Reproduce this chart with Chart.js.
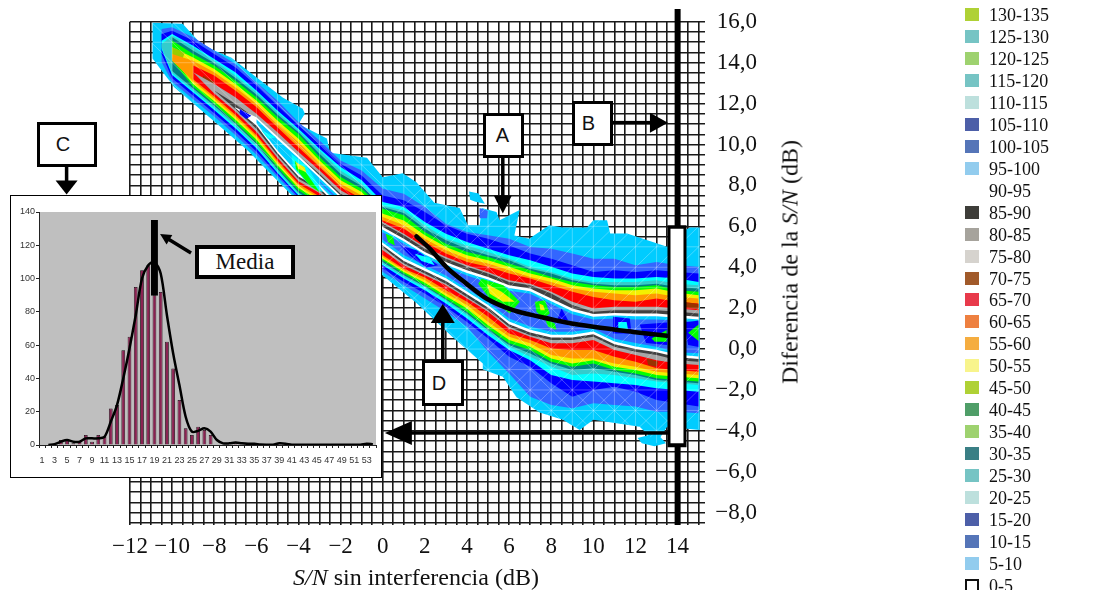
<!DOCTYPE html>
<html>
<head>
<meta charset="utf-8">
<script src="https://cdn.jsdelivr.net/npm/chart.js@4/dist/chart.umd.js"></script>
<style>
  html, body { margin: 0; padding: 0; background: #fff; width: 1107px; height: 590px; overflow: hidden; }
  #main { position: absolute; left: 0; top: 0; }
  #insetBox { position: absolute; left: 10px; top: 195px; width: 372px; height: 283px; box-sizing: border-box; border: 1px solid #000; background: #fff; }
  #inset { position: absolute; left: 0; top: 0; }
  .tag { position: absolute; box-sizing: border-box; border: 3px solid #000; background: #fff; color: #111; display: flex; align-items: center; justify-content: center; font: 20px "Liberation Sans", sans-serif; padding-right: 8px; }
  .media { font: 23px "Liberation Serif", serif; border-width: 4px; padding-right: 0; }
  .axisTitle { position: absolute; font: 24px "Liberation Serif", serif; color: #111; white-space: nowrap; }
  .legendRow { position: absolute; left: 965px; height: 20px; font: 18px/20px "Liberation Serif", serif; color: #111; }
  .legendRow i { position: absolute; left: 0; top: 3px; width: 14px; height: 13px; box-sizing: border-box; }
  .legendRow span { position: absolute; left: 24px; white-space: nowrap; }
</style>
</head>
<body>
<canvas id="main" width="1107" height="590"></canvas>
<div class="axisTitle" style="left:293px;top:564px"><em>S/N</em> sin interferencia (dB)</div>
<div class="axisTitle" style="left:790px;top:262px;transform:translate(-50%,-50%) rotate(-90deg)">Diferencia de la <em>S/N</em> (dB)</div>
<div id="insetBox"><canvas id="inset" width="370" height="281"></canvas></div>
<div class="tag" style="left:483px;top:113px;width:41px;height:45px;padding-right:2px">A</div>
<div class="tag" style="left:572px;top:101px;width:41px;height:45px">B</div>
<div class="tag" style="left:37px;top:122px;width:60px;height:45px">C</div>
<div class="tag" style="left:422px;top:360px;width:42px;height:46px">D</div>
<div class="tag media" style="left:195px;top:245px;width:100px;height:34px">Media</div>
<div id="legend"></div>

<script>
// columns of the contour map, S/N without interference (dB)
const snrCols = [-10.5, -10, -9, -8, -7, -6, -5, -4, -3, -2, -1, 0, 1, 2, 3, 4, 5, 6, 7, 8, 9, 10, 11, 12, 13, 14, 15];

// outer edge of the contour map, read around the outline
const outlineX = [-10.93, -9.5, -8.7, -8, -7.2, -6.2, -4.75, -3.8, -3.7, -4, -2.65, -2.5, -0.75, 0, 0.95, 1.6, 2.45, 3.65, 4.05, 4.6, 4.7, 5.4, 5.55, 6.5, 6.25, 6.95, 7.9, 8.55, 9.7, 10, 10.65, 10.8, 11.6, 13.5, 14.1, 14.6, 15.05, 15.05, 13.5, 13, 12.2, 10, 9.35, 8.55, 7.45, 6.35, 5.7, 4.75, 4.75, 3.3, 1.6, 0, -4.4, -5.35, -6.4, -7.75, -8.7, -9.9, -10.93];
const outlineY = [15.95, 15.9, 15, 14.6, 14.25, 13.45, 12.3, 11.75, 11.5, 11, 10.3, 9.6, 9.35, 8.4, 8.6, 8.15, 7.15, 6.9, 6.05, 6.05, 6.9, 6.7, 6.3, 6.8, 5.55, 5.4, 6.05, 5.95, 5.95, 6.3, 6.3, 5.65, 5.65, 5, 5.7, 5.95, 5.95, -3.95, -3.8, -4.6, -3.8, -3.45, -3.95, -3.45, -3.1, -2.35, -1.35, -1, -0.7, 0.6, 2.25, 3.6, 7.6, 8.6, 9.7, 10.9, 11.75, 12.8, 14.2];

// contour bands, upper and lower edge per column (dB)
const royalTop = [15.65, 15.73, 15.24, 14.59, 13.94, 13.04, 12.15, 11.09, 10.2, 9.22, 8.73, 7.84, 7.59, 6.94, 6.13, 5.72, 5.56, 5.4, 4.99, 4.91, 4.67, 4.42, 4.42, 4.1, 4.26, 4.1, 4.02];
const royalBot = [14.02, 13.07, 12.21, 11.37, 10.47, 9.5, 8.41, 7.32, 6.49, 5.43, 4.37, 3.77, 3.12, 2.47, 1.82, 1.09, -0.13, -1.19, -2.33, -2.73, -2.89, -2.65, -2.73, -2.81, -3.06, -3.06, -3.14];
const blueTop = [15.4, 15.56, 15.08, 14.43, 13.78, 12.88, 11.91, 10.93, 10.03, 9.06, 8.49, 7.51, 7.27, 6.7, 6.05, 5.64, 5.4, 5.07, 4.67, 4.42, 4.1, 3.77, 3.85, 3.77, 3.85, 3.77, 3.69];
const blueBot = [14.43, 13.24, 12.38, 11.53, 10.64, 9.66, 8.52, 7.43, 6.65, 5.6, 4.54, 3.93, 3.28, 2.72, 2.07, 1.33, 0.52, -0.37, -0.86, -1.67, -2.33, -2, -1.84, -2.08, -2.49, -2.65, -2.81];
const cyanTop = [15.07, 15.4, 14.83, 14.18, 13.53, 12.64, 11.66, 10.77, 9.79, 8.9, 8.25, 7.19, 6.94, 6.21, 5.64, 5.24, 4.91, 4.59, 4.34, 4.02, 3.69, 3.53, 3.45, 3.45, 3.53, 3.45, 3.28];
const cyanBot = [14.67, 13.4, 12.54, 11.69, 10.8, 9.82, 8.62, 7.51, 6.81, 5.76, 4.7, 4.1, 3.45, 2.88, 2.23, 1.5, 0.68, -0.05, -0.54, -1.27, -1.51, -1.59, -1.67, -1.76, -1.92, -2, -2.08];
const tealTop = [14.91, 15.32, 14.75, 14.1, 13.37, 12.56, 11.58, 10.69, 9.71, 8.73, 8.08, 7.02, 6.78, 6.05, 5.4, 5.07, 4.75, 4.42, 4.02, 3.77, 3.45, 3.28, 3.28, 3.28, 3.37, 3.2, 3.12];
const tealBot = [14.75, 13.5, 12.64, 11.79, 10.9, 9.92, 8.7, 7.59, 6.91, 5.86, 4.8, 4.18, 3.53, 3.01, 2.36, 1.66, 0.85, 0.11, -0.37, -0.86, -1.27, -1.19, -1.27, -1.43, -1.59, -1.67, -1.76];
const deepTop = [null, 15.24, 14.59, 13.99, 13.26, 12.44, 11.47, 10.6, 9.55, 8.57, 7.97, 6.94, 6.65, 5.88, 5.32, 4.91, 4.59, 4.34, 3.93, 3.69, 3.37, 3.2, 3.12, 3.12, 3.2, 3.04, 2.96];
const deepBot = [null, 13.6, 12.74, 11.89, 11, 10.02, 8.8, 7.66, 7.01, 5.95, 4.9, 4.26, 3.61, 3.07, 2.42, 1.74, 0.93, 0.2, -0.21, -0.7, -1.02, -0.94, -1.11, -1.27, -1.51, -1.59, -1.67];
const greenTop = [null, 15.08, 14.43, 13.86, 13.13, 12.31, 11.34, 10.52, 9.39, 8.41, 7.84, 6.86, 6.54, 5.72, 5.15, 4.75, 4.5, 4.18, 3.85, 3.53, 3.28, 3.12, 3.04, 3.04, 3.12, 2.88, 2.8];
const greenBot = [null, 14.1, 12.83, 11.98, 11.09, 10.11, 8.89, 7.76, 7.11, 6.05, 5, 4.34, 3.69, 3.12, 2.47, 1.82, 1.01, 0.28, -0.05, -0.62, -0.86, -0.7, -1.02, -1.19, -1.43, -1.51, -1.59];
const yellowTop = [null, 14.75, 14.26, 13.69, 12.96, 12.15, 11.17, 10.28, 9.22, 8.25, 7.68, 6.62, 6.29, 5.56, 4.99, 4.59, 4.34, 4.02, 3.69, 3.45, 3.12, 2.96, 2.88, 2.88, 2.96, 2.75, 2.63];
const yellowBot = [null, 14.26, 12.96, 12.11, 11.22, 10.24, 9.01, 7.87, 7.24, 6.18, 5.13, 4.42, 3.77, 3.24, 2.59, 1.98, 1.17, 0.44, 0.11, -0.46, -0.7, -0.54, -0.86, -1.02, -1.27, -1.35, -1.43];
const orangeTop = [null, 14.43, 14.1, 13.53, 12.8, 11.99, 11.01, 10.11, 9.06, 8.08, 7.51, 6.46, 6.05, 5.4, 4.83, 4.42, 4.18, 3.85, 3.53, 3.28, 2.96, 2.8, 2.72, 2.63, 2.72, 2.55, 2.47];
const orangeBot = [null, 14.1, 13.09, 12.24, 11.35, 10.37, 9.12, 7.97, 7.37, 6.31, 5.26, 4.5, 3.85, 3.37, 2.72, 2.15, 1.33, 0.6, 0.28, -0.29, -0.46, -0.46, -0.7, -0.86, -1.11, -1.19, -1.27];
const redTop = [null, null, 13.86, 13.37, 12.64, 11.83, 10.85, 9.87, 8.9, 7.92, 7.35, 6.29, 5.88, 5.24, 4.67, 4.26, 4.02, 3.69, 3.45, 3.12, 2.8, 2.55, 2.39, 2.31, 2.47, 2.31, 2.23];
const redBot = [null, null, 13.19, 12.35, 11.45, 10.47, 9.22, 8.08, 7.46, 6.41, 5.35, 4.59, 3.93, 3.5, 2.88, 2.31, 1.58, 0.76, 0.44, 0.03, -0.05, -0.05, -0.37, -0.62, -0.94, -1.02, -1.11];
const grayTop = [null, null, 13.53, 12.96, 12.31, 11.5, 10.6, 9.63, 8.73, 7.76, 7.19, 6.21, 5.64, 4.99, 4.5, 4.1, 3.77, 3.37, 3.2, 2.8, 2.31, 1.98, 2.07, 2.07, 2.07, 1.98, 1.9];
const grayBot = [null, null, null, 12.5, 11.61, 10.63, 9.35, 8.21, 7.63, 6.57, 5.51, 4.83, 4.1, 3.61, 3.12, 2.47, 1.82, 1.01, 0.6, 0.28, 0.28, 0.44, -0.05, -0.29, -0.54, -0.7, -0.78];
const darkTop = [null, null, null, 12.64, 11.99, 11.25, 10.36, 9.46, 8.57, 7.59, 7.03, 6.13, 5.56, 4.91, 4.42, 4.02, 3.69, 3.28, 3.12, 2.72, 2.15, 1.82, 1.9, 1.9, 1.9, 1.82, 1.74];
const darkBot = [null, null, null, 12.64, 11.74, 10.77, 9.47, 8.33, 7.76, 6.7, 5.65, 4.96, 4.18, 3.69, 3.2, 2.55, 1.9, 1.09, 0.68, 0.44, 0.44, 0.6, 0.11, -0.13, -0.29, -0.54, -0.62];

// valley between the two ridges
const whiteTop = [null, null, null, null, 11.82, 11.33, 10.39, 9.46, 8.49, 7.51, 6.78, 5.97, 5.4, 4.75, 4.26, 3.85, 3.53, 3.12, 2.96, 2.47, 1.98, 1.71, 1.77, 1.74, 1.74, 1.66, 1.58];
const whiteBot = [null, null, null, null, 11.79, 10.93, 9.58, 8.44, 7.87, 6.83, 5.77, 5.07, 4.31, 3.82, 3.33, 2.68, 2.03, 1.22, 0.81, 0.57, 0.57, 0.73, 0.24, 0, -0.16, -0.4, -0.49];
const paleTop = [null, null, null, null, null, 11.24, 10.26, 9.33, 8.36, 7.38, 6.65, 5.84, 5.27, 4.62, 4.13, 3.72, 3.4, 2.99, 2.83, 2.34, 1.85, 1.58, 1.64, 1.61, 1.61, 1.53, 1.45];
const paleBot = [null, null, null, null, null, 11.04, 9.71, 8.57, 8, 6.96, 5.9, 5.2, 4.44, 3.95, 3.46, 2.81, 2.16, 1.35, 0.94, 0.7, 0.7, 0.86, 0.37, 0.13, -0.03, -0.28, -0.36];
const innerTop = [null, null, null, null, null, null, null, null, 8.2, 7.25, 6.5, 5.7, 5.15, 4.5, 4, 3.6, 3.25, 2.85, 2.7, 2.2, 1.7, 1.45, 1.5, 1.45, 1.45, 1.4, 1.3];
const innerBot = [null, null, null, null, null, null, null, null, 8.15, 7.1, 6.05, 5.35, 4.6, 4.1, 3.6, 2.95, 2.3, 1.5, 1.1, 0.85, 0.85, 1, 0.5, 0.3, 0.12, -0.15, -0.2];

// small closed islands, [x, y] in dB
const blobTop = [[4.1, 7.7], [4.55, 7.6], [4.85, 7.1], [4.4, 7.2], [4.15, 7.3]];
const blobLow = [[12.1, -4.35], [13, -4.1], [13.45, -4.6], [12.9, -4.75], [12.3, -4.6]];
const blobCore = [[4.6, 6.9], [5, 6.75], [4.95, 6.4], [4.6, 6.4]];
const holeBlue = [[-6.79, 11.74], [-6.24, 11.41], [-6.48, 11.25], [-6.79, 11.49]];
const holeCyan = [[-5.76, 10.68], [-5.05, 10.36], [-5.45, 10.28]];
const ringCyan = [[-4.34, 9.54], [-3.63, 8.98], [-2.83, 7.67], [-3.39, 7.91], [-4.25, 8.88]];
const ringGreen = [[-4.18, 9.22], [-3.71, 8.73], [-2.99, 7.67], [-3.47, 8], [-4.12, 8.8]];
const ringYellow = [[-4.13, 9.14], [-3.71, 8.89], [-3.63, 8.65], [-4.02, 8.81]];
const valleyBlueA = [[0.81, 5.07], [1.6, 4.83], [2.63, 4.1], [2.07, 3.98], [1.28, 4.58]];
const valleyCyanA = [[1.52, 4.66], [2.23, 4.47], [2.47, 4.1], [1.84, 4.31]];
const valleyGreenA = [[0.14, 5.64], [0.49, 5.48], [0.57, 5.07], [0.25, 5.23]];
const valleyGreenB = [[4.69, 3.44], [5.72, 3.12], [6.51, 2.31], [6.03, 1.74], [5.08, 2.47], [4.53, 3.2]];
const valleyYellowB = [[4.94, 3.2], [5.64, 2.8], [6.27, 2.31], [5.72, 2.31], [5.08, 2.71]];
const valleyGreenC = [[7.22, 2.31], [7.7, 2.39], [7.93, 1.74], [7.62, 1.49], [7.3, 1.82]];
const valleyYellowC = [[7.43, 2.23], [7.62, 2.14], [7.7, 1.9], [7.49, 1.9]];
const valleyGreenD = [[7.7, 1.49], [8.17, 1.25], [8.25, 0.93], [7.85, 1.09]];
const valleyBlueE = [[8.49, 1.98], [8.8, 1.41], [8.25, 1.33]];
const valleyBlueF = [[10.94, 1.58], [11.73, 1.49], [11.81, 0.76], [10.94, 0.76]];
const valleyCyanF = [[11.18, 1.33], [11.58, 1.33], [11.65, 0.93], [11.18, 0.93]];
const valleyBlueG = [[12.2, 1.2], [13.5, 1.3], [13.5, 0.2], [12.5, 0.3]];
const valleyGreenG = [[12.76, 0.52], [13.48, 0.93], [13.48, 0.36], [12.92, 0.36]];
const valleyBlueH = [[14.3, 1.3], [15, 1.4], [15, 0.1], [14.5, 0.2]];
const valleyGreenH = [[14.5, 0.8], [15, 1.2], [15, 0.4]];
const limeTip = [[-10, 14.75], [-9.4, 14.5], [-9.5, 14.2], [-10, 14.4]];
const brownA = [[-8.54, 13.37], [-7.98, 13.04], [-8.22, 12.88], [-8.54, 13.04]];
const brownB = [[12.53, -0.46], [13.08, -0.62], [13, -0.86], [12.6, -0.78]];
const brownC = [[14.3, 2.3], [15, 2.2], [15, 1.95], [14.4, 2.05]];

// the curve, the long bar and the arrows over the map
const curveX = [1.6, 2.23, 3.02, 3.97, 4.92, 6.19, 7.46, 8.72, 10, 11.89, 13.5];
const curveY = [5.51, 4.91, 4.01, 3.2, 2.47, 1.9, 1.58, 1.3, 1.09, 0.84, 0.65];
const arrowsMain = [
  { from: [5.7, 9.37], to: [5.7, 6.63], len: 18, wid: 18 },
  { from: [10.88, 11.07], to: [13.54, 11.07], len: 18, wid: 20 },
  { from: [-15.01, 8.93], to: [-15.01, 7.56], len: 14, wid: 22 },
  { from: [2.85, -0.59], to: [2.85, 2.2], len: 19, wid: 24 },
  { from: [13.54, -4.1], to: [0.1, -4.1], len: 27, wid: 24 }
];

// inset histogram
const histCats = Array.from({ length: 54 }, (_, i) => String(i + 1));
const histBars = [0, 0, 0, 3, 3, 1, 2, 6, 2, 6, 5, 22, 24, 57, 65, 95, 105, 108, 90, 92, 62, 46, 27, 10, 6, 11, 9, 6, 0, 0, 0, 1, 0, 0, 0, 0, 0, 0, 1, 0, 0, 0, 0, 0, 0, 0, 0, 0, 0, 0, 0, 0, 0, 0];
const histLine = [null, 0, 0.5, 2, 3, 2, 2, 4, 4, 4, 5, 14, 24, 40, 58, 78, 100, 108, 110, 103, 78, 55, 36, 17, 8, 8.5, 10, 8, 3, 1, 1, 1.5, 1, 0.7, 0.7, 0.3, 0.2, 0.2, 1, 0.8, 0.2, 0.2, 0.2, 0.2, 0.2, 0.2, 0.2, 0.2, 0.2, 0.2, 0.2, 0.2, 0.8, 0.5];
const histMedia = histCats.map(c => c === '19' ? [90, 135] : null);

const legendLabels = ['130-135', '125-130', '120-125', '115-120', '110-115', '105-110', '100-105', '95-100', '90-95', '85-90', '80-85', '75-80', '70-75', '65-70', '60-65', '55-60', '50-55', '45-50', '40-45', '35-40', '30-35', '25-30', '20-25', '15-20', '10-15', '5-10', '0-5'];
const legendColors = ['#AFD135', '#76C4C4', '#9ED26F', '#76C4C4', '#BDE0DD', '#4D5FA8', '#5575B8', '#92CCEE', '#FFFFFF', '#3E3D39', '#A6A39C', '#D6D3CE', '#A15A2A', '#E83A4B', '#EE8040', '#F5AD40', '#F8F48C', '#AFD135', '#4F9E68', '#9ED26F', '#3A7F85', '#76C4C4', '#BDE0DD', '#4D5FA8', '#5575B8', '#92CCEE', '#FFFFFF'];

const legend = document.getElementById('legend');
legendLabels.forEach((label, i) => {
  const row = document.createElement('div');
  row.className = 'legendRow';
  row.style.top = (5 + i * 21.96) + 'px';
  const swatch = label === '90-95' ? '' : `<i style="background:${legendColors[i]};${label === '0-5' ? 'border:2px solid #111' : ''}"></i>`;
  row.innerHTML = `${swatch}<span>${label}</span>`;
  legend.appendChild(row);
});

function band(top, bot) {
  const pts = [];
  snrCols.forEach((x, i) => { if (top[i] !== null) pts.push({ x, y: top[i] }); });
  for (let i = snrCols.length - 1; i >= 0; i--) {
    if (bot[i] !== null) pts.push({ x: snrCols[i], y: bot[i] });
  }
  return pts;
}

const asPts = arr => arr.map(p => ({ x: p[0], y: p[1] }));
const outlinePts = outlineX.map((x, i) => ({ x, y: outlineY[i] }));
const LIGHT = '#00CCFF', ROYAL = '#3366FF', BLUE = '#0000FF', CYAN = '#00FFFF', TEAL = '#33CCCC', DEEP = '#008080';
const GREEN = '#00FF00', YELLOW = '#F4F000', ORANGE = '#FF9900', RED = '#FF0000', GRAY = '#A6A6A6', DARK = '#404040', BROWN = '#993300', LIME = '#99CC00';

// painted in this order, later ones on top
const fills = [
  [outlinePts, LIGHT],
  [asPts(blobTop), LIGHT], [asPts(blobCore), ROYAL], [asPts(blobLow), LIGHT],
  [band(royalTop, royalBot), ROYAL],
  [band(blueTop, blueBot), BLUE],
  [band(cyanTop, cyanBot), CYAN],
  [band(tealTop, tealBot), TEAL],
  [band(deepTop, deepBot), DEEP],
  [band(greenTop, greenBot), GREEN],
  [band(yellowTop, yellowBot), YELLOW],
  [asPts(limeTip), LIME],
  [band(orangeTop, orangeBot), ORANGE],
  [band(redTop, redBot), RED],
  [asPts(brownA), BROWN], [asPts(brownB), BROWN], [asPts(brownC), BROWN],
  [band(grayTop, grayBot), GRAY],
  [band(darkTop, darkBot), DARK],
  [band(whiteTop, whiteBot), '#FFFFFF'],
  [band(paleTop, paleBot), LIGHT],
  [band(innerTop, innerBot), ROYAL],
  [asPts(holeBlue), BLUE], [asPts(holeCyan), CYAN],
  [asPts(ringCyan), CYAN], [asPts(ringGreen), GREEN], [asPts(ringYellow), YELLOW],
  [asPts(valleyBlueA), BLUE], [asPts(valleyCyanA), CYAN], [asPts(valleyGreenA), GREEN],
  [asPts(valleyGreenB), GREEN], [asPts(valleyYellowB), YELLOW],
  [asPts(valleyGreenC), GREEN], [asPts(valleyYellowC), YELLOW], [asPts(valleyGreenD), GREEN],
  [asPts(valleyBlueE), BLUE], [asPts(valleyBlueF), BLUE], [asPts(valleyCyanF), CYAN],
  [asPts(valleyBlueG), BLUE], [asPts(valleyGreenG), GREEN],
  [asPts(valleyBlueH), BLUE], [asPts(valleyGreenH), GREEN]
];

const datasets = fills.map(([pts, color], i) => ({
  data: pts, showLine: true, fill: 'shape', backgroundColor: color,
  borderWidth: 0, pointRadius: 0, tension: 0, order: 1000 - i
}));

const strokes = [
  { data: curveX.map((x, i) => ({ x, y: curveY[i] })), borderColor: '#000', borderWidth: 4.5, cubicInterpolationMode: 'monotone', borderCapStyle: 'round', order: 3 },
  { data: [{ x: 14, y: -8.6 }, { x: 14, y: 16.63 }], borderColor: '#000', borderWidth: 6, order: 2 },
  { data: [{ x: 13.97, y: -4.8 }, { x: 13.97, y: 6.05 }], borderColor: '#000', borderWidth: 19, order: 1 },
  { data: [{ x: 13.97, y: -4.6 }, { x: 13.97, y: 5.88 }], borderColor: '#fff', borderWidth: 13, order: 0 }
];
strokes.forEach(s => datasets.push({ showLine: true, pointRadius: 0, fill: false, clip: false, ...s }));

function drawArrow(ctx, x0, y0, x1, y1, len, wid, shaft) {
  const a = Math.atan2(y1 - y0, x1 - x0);
  const dist = Math.hypot(x1 - x0, y1 - y0);
  ctx.save();
  ctx.translate(x1, y1);
  ctx.rotate(a);
  ctx.fillStyle = '#000';
  ctx.fillRect(-dist, -shaft / 2, dist - len + 1, shaft);
  ctx.beginPath();
  ctx.moveTo(0, 0);
  ctx.lineTo(-len, -wid / 2);
  ctx.lineTo(-len, wid / 2);
  ctx.closePath();
  ctx.fill();
  ctx.restore();
}

const mainExtras = {
  id: 'mainExtras',
  // faint mesh of the surface, only inside the map, under the curve and the bar
  afterDatasetDraw(chart, args) {
    if (args.index !== fills.length - 1) return;
    const { ctx, scales: { x, y } } = chart;
    ctx.save();
    ctx.beginPath();
    outlinePts.forEach((p, i) => {
      const px = x.getPixelForValue(p.x), py = y.getPixelForValue(p.y);
      if (i === 0) ctx.moveTo(px, py); else ctx.lineTo(px, py);
    });
    ctx.closePath();
    ctx.clip();
    ctx.strokeStyle = 'rgba(255,255,255,0.28)';
    ctx.lineWidth = 1;
    ctx.beginPath();
    for (let v = -11; v <= 15; v++) {
      ctx.moveTo(x.getPixelForValue(v), y.getPixelForValue(-5));
      ctx.lineTo(x.getPixelForValue(v), y.getPixelForValue(16));
      ctx.moveTo(x.getPixelForValue(v), y.getPixelForValue(-5));
      ctx.lineTo(x.getPixelForValue(v + 21), y.getPixelForValue(16));
      ctx.moveTo(x.getPixelForValue(v), y.getPixelForValue(-5));
      ctx.lineTo(x.getPixelForValue(v - 21), y.getPixelForValue(16));
    }
    for (let v = -5; v <= 16; v++) {
      ctx.moveTo(x.getPixelForValue(-11), y.getPixelForValue(v));
      ctx.lineTo(x.getPixelForValue(15), y.getPixelForValue(v));
    }
    ctx.stroke();
    ctx.restore();
  },
  afterDatasetsDraw(chart) {
    const { x, y } = chart.scales;
    arrowsMain.forEach(a => drawArrow(chart.ctx, x.getPixelForValue(a.from[0]), y.getPixelForValue(a.from[1]),
      x.getPixelForValue(a.to[0]), y.getPixelForValue(a.to[1]), a.len, a.wid, 3.5));
  }
};

const evenLabel = v => Number.isInteger(v / 2) ? String(v).replace('-', '\u2212') : '';
const evenLabelDec = v => Number.isInteger(v / 2) ? v.toFixed(1).replace('.', ',').replace('-', '\u2212') : '';
const serif = { family: '"Liberation Serif", serif', size: 23 };

new Chart(document.getElementById('main'), {
  type: 'scatter',
  data: { datasets },
  plugins: [mainExtras],
  options: {
    responsive: false,
    animation: false,
    layout: { padding: { left: 130, top: 21, right: 350, bottom: 30 } },
    plugins: { legend: { display: false }, tooltip: { enabled: false } },
    scales: {
      x: {
        type: 'linear', min: -12, max: 15.3,
        afterFit: s => { s.height = 35; },
        border: { display: false },
        grid: { color: '#1a1a1a', lineWidth: 1.6, drawTicks: false },
        ticks: { stepSize: 0.5, includeBounds: false, autoSkip: false, maxRotation: 0, padding: 8, color: '#111', font: serif, callback: evenLabel }
      },
      y: {
        type: 'linear', position: 'right', min: -8.6, max: 16,
        afterFit: s => { s.width = 52; },
        border: { display: false },
        grid: { color: '#1a1a1a', lineWidth: 1.6, drawTicks: false },
        ticks: { stepSize: 0.5, includeBounds: false, autoSkip: false, padding: 8, crossAlign: 'far', color: '#111', font: serif, callback: evenLabelDec }
      }
    }
  }
});

const insetExtras = {
  id: 'insetExtras',
  beforeDraw(chart) {
    const { ctx, chartArea: c } = chart;
    ctx.save();
    ctx.fillStyle = '#BFBFBF';
    ctx.fillRect(c.left, c.top, c.width, c.height);
    ctx.restore();
  },
  afterDatasetsDraw(chart) {
    const { x, y } = chart.scales;
    drawArrow(chart.ctx, x.getPixelForValue(23.86), y.getPixelForValue(115.4), x.getPixelForValue(18.9), y.getPixelForValue(126.8), 11, 11, 3.5);
  }
};

const smallFont = { family: '"Liberation Sans", sans-serif', size: 9 };

new Chart(document.getElementById('inset'), {
  type: 'bar',
  data: {
    labels: histCats,
    datasets: [
      { type: 'line', data: histLine, borderColor: '#000', borderWidth: 2.5, pointRadius: 0, tension: 0.3, order: 0 },
      { data: histMedia, backgroundColor: '#000', barPercentage: 1, categoryPercentage: 1, grouped: false, order: 1 },
      { data: histBars, backgroundColor: '#8B2252', borderColor: '#1a0a12', borderWidth: 0.8, barPercentage: 0.6, categoryPercentage: 1, grouped: false, order: 2 }
    ]
  },
  plugins: [insetExtras],
  options: {
    responsive: false,
    animation: false,
    layout: { padding: { left: 0, top: 16, right: 5, bottom: 0 } },
    plugins: { legend: { display: false }, tooltip: { enabled: false } },
    scales: {
      x: {
        afterFit: s => { s.height = 32; },
        border: { color: '#222' },
        grid: { drawOnChartArea: false, color: '#222', tickLength: 3, offset: true },
        ticks: { autoSkip: false, maxRotation: 0, padding: 7, color: '#333', font: smallFont, callback: (v, i) => i % 2 === 0 ? histCats[i] : '' }
      },
      y: {
        min: 0, max: 140,
        afterFit: s => { s.width = 28; },
        border: { color: '#222' },
        grid: { drawOnChartArea: false, color: '#222', tickLength: 3 },
        ticks: { stepSize: 20, padding: 1, color: '#333', font: smallFont }
      }
    }
  }
});
</script>
</body>
</html>
